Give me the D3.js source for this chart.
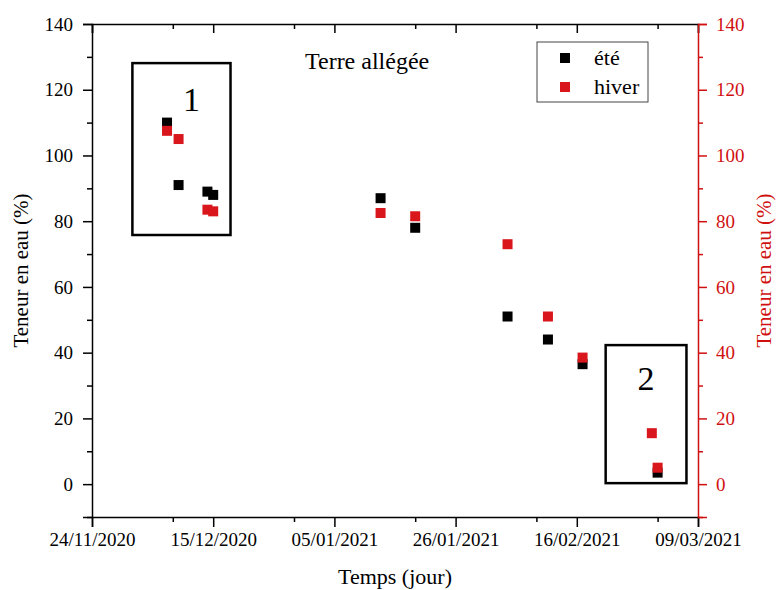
<!DOCTYPE html>
<html><head><meta charset="utf-8">
<script src="https://cdn.jsdelivr.net/npm/d3@7"></script>
<style>body{margin:0;background:#fff}</style>
</head><body>
<svg id="c" width="777" height="590"></svg>
<script>
const eteDates = ["2020-12-07","2020-12-09","2020-12-14","2020-12-15","2021-01-13","2021-01-19","2021-02-04","2021-02-11","2021-02-17","2021-03-02"];
const eteValues = [110, 91, 89, 88, 87, 78, 51, 44, 36.5, 3.5];
const hiverDates = ["2020-12-07","2020-12-09","2020-12-14","2020-12-15","2021-01-13","2021-01-19","2021-02-04","2021-02-11","2021-02-17","2021-03-01","2021-03-02"];
const hiverValues = [107.5, 105, 83.5, 83, 82.5, 81.5, 73, 51, 38.5, 15.5, 5];
const xTickLabels = ["24/11/2020","15/12/2020","05/01/2021","26/01/2021","16/02/2021","09/03/2021"];
const yTicks = [0, 20, 40, 60, 80, 100, 120, 140];
const yMinorTicks = [-10, 10, 30, 50, 70, 90, 110, 130];
const boxes = [{label:"1", x0:"2020-12-01", x1:"2020-12-18", y0:75.8, y1:128.1},
               {label:"2", x0:"2021-02-21", x1:"2021-03-07", y0:0.3, y1:42.3}];

const FONT = "'Liberation Serif', 'DejaVu Serif', 'Times New Roman', serif";
const W = 777, H = 590;
const m = {l:92, t:24, r:79, b:73};
const pw = W - m.l - m.r, ph = H - m.t - m.b;
const parse = d3.utcParse("%d/%m/%Y");
const pdate = d3.utcParse("%Y-%m-%d");
const tickDates = xTickLabels.map(parse);
const minorDates = tickDates.slice(0,-1).map(d => d3.utcDay.offset(d, 14));
const fmt = d3.utcFormat("%d/%m/%Y");
const red = "#d9161c", axisRed = "#d01010";

const svg = d3.select("#c").attr("font-family", FONT).style("font-family", FONT);
const g = svg.append("g").attr("transform", `translate(${m.l},${m.t})`);
const x = d3.scaleUtc().domain([tickDates[0], tickDates[tickDates.length-1]]).range([0, pw]);
const y = d3.scaleLinear().domain([-10, 140]).range([ph, 0]);

// annotation boxes
const labelDx = [10, 0], labelDy = [48, 45];
boxes.forEach((b, i) => {
  const bx0 = x(pdate(b.x0)), bx1 = x(pdate(b.x1)), by0 = y(b.y1), by1 = y(b.y0);
  g.append("rect").attr("x", bx0).attr("y", by0).attr("width", bx1-bx0).attr("height", by1-by0)
    .attr("fill","none").attr("stroke","#000").attr("stroke-width",2.5);
  g.append("text").attr("x", (bx0+bx1)/2 + labelDx[i]).attr("y", by0 + labelDy[i])
    .attr("text-anchor","middle").attr("font-size",34).text(b.label);
});

// axes
function styleAxis(sel, color) {
  sel.attr("font-family", FONT);
  sel.select(".domain").attr("stroke", color).attr("stroke-width", 1.5);
  sel.selectAll(".tick line").attr("stroke", color).attr("stroke-width", 1.5);
  sel.selectAll(".tick text").attr("fill", color).style("font-family", FONT);
}
// bottom
const xb = g.append("g").attr("transform", `translate(0,${ph})`)
  .call(d3.axisBottom(x).tickValues(tickDates).tickFormat(fmt).tickSizeOuter(0).tickSize(10).tickPadding(6));
styleAxis(xb, "#000"); xb.selectAll(".tick text").attr("font-size", 19);
g.append("g").attr("transform", `translate(0,${ph})`)
  .call(d3.axisBottom(x).tickValues(minorDates).tickFormat("").tickSizeOuter(0).tickSize(5))
  .call(s => { styleAxis(s, "#000"); s.select(".domain").remove(); });
// top
const xt = g.append("g").call(d3.axisBottom(x).tickValues(tickDates).tickFormat("").tickSizeOuter(0).tickSize(9));
styleAxis(xt, "#000");
g.append("g").call(d3.axisBottom(x).tickValues(minorDates).tickFormat("").tickSizeOuter(0).tickSize(5))
  .call(s => { styleAxis(s, "#000"); s.select(".domain").remove(); });
// left
const yl = g.append("g").call(d3.axisLeft(y).tickValues(yTicks).tickSizeOuter(0).tickSize(9).tickPadding(10));
styleAxis(yl, "#000"); yl.selectAll(".tick text").attr("font-size", 19);
g.append("g").call(d3.axisLeft(y).tickValues(yMinorTicks).tickFormat("").tickSizeOuter(0).tickSize(5))
  .call(s => { styleAxis(s, "#000"); s.select(".domain").remove(); });
// right
const yr = g.append("g").attr("transform", `translate(${pw},0)`)
  .call(d3.axisRight(y).tickValues(yTicks).tickSizeOuter(0).tickSize(9).tickPadding(9));
styleAxis(yr, axisRed); yr.selectAll(".tick text").attr("font-size", 19);
g.append("g").attr("transform", `translate(${pw},0)`)
  .call(d3.axisRight(y).tickValues(yMinorTicks).tickFormat("").tickSizeOuter(0).tickSize(5))
  .call(s => { styleAxis(s, axisRed); s.select(".domain").remove(); });

// markers
const ms = 10;
const ete = eteDates.map((d,i) => ({d: pdate(d), v: eteValues[i]}));
const hiver = hiverDates.map((d,i) => ({d: pdate(d), v: hiverValues[i]}));
g.selectAll(".ete").data(ete).join("rect").attr("class","ete")
  .attr("x", p => x(p.d)-ms/2).attr("y", p => y(p.v)-ms/2).attr("width", ms).attr("height", ms).attr("fill","#000");
g.selectAll(".hiver").data(hiver).join("rect").attr("class","hiver")
  .attr("x", p => x(p.d)-ms/2).attr("y", p => y(p.v)-ms/2).attr("width", ms).attr("height", ms).attr("fill",red);

// title
svg.append("text").attr("x", 305).attr("y", 69).attr("font-size", 24).text("Terre allégée");

// legend
const lg = svg.append("g").attr("transform", "translate(537,42)");
lg.append("rect").attr("width", 111).attr("height", 60).attr("fill","#fff").attr("stroke","#444").attr("stroke-width",1);
lg.append("rect").attr("x", 23).attr("y", 11).attr("width", 10).attr("height", 10).attr("fill","#000");
lg.append("rect").attr("x", 23).attr("y", 40).attr("width", 10).attr("height", 10).attr("fill",red);
lg.append("text").attr("x", 57).attr("y", 23).attr("font-size", 22).text("été");
lg.append("text").attr("x", 57).attr("y", 52).attr("font-size", 22).text("hiver");

// axis titles
svg.append("text").attr("transform", `translate(28,${m.t+ph/2}) rotate(-90)`).attr("text-anchor","middle")
  .attr("font-size", 21).text("Teneur en eau (%)");
svg.append("text").attr("transform", `translate(771,${m.t+ph/2}) rotate(-90)`).attr("text-anchor","middle")
  .attr("font-size", 21).attr("fill", axisRed).text("Teneur en eau (%)");
svg.append("text").attr("x", m.l+pw/2).attr("y", 584).attr("text-anchor","middle").attr("font-size", 22).text("Temps (jour)");
</script>
</body></html>
